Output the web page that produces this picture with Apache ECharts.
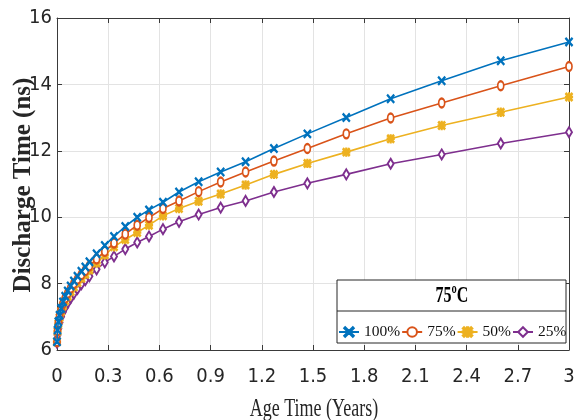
<!DOCTYPE html>
<html>
<head>
<meta charset="utf-8">
<script src="https://cdn.jsdelivr.net/npm/echarts@6/dist/echarts.min.js"></script>
<style>
html,body{margin:0;padding:0;background:#fff;}
#chart{width:580px;height:420px;}
</style>
</head>
<body>
<div id="chart"></div>
<script>
// ---- data ----
var ageYears = [0, 0.003, 0.008, 0.015, 0.024, 0.035, 0.048, 0.063, 0.08, 0.099, 0.12, 0.143, 0.166, 0.19, 0.232, 0.28, 0.334, 0.40, 0.47, 0.539, 0.621, 0.715, 0.83, 0.959, 1.105, 1.271, 1.467, 1.695, 1.955, 2.254, 2.6, 3.0];
var dt100 = [6.25, 6.6, 6.85, 7.05, 7.25, 7.45, 7.62, 7.78, 7.93, 8.08, 8.22, 8.37, 8.5, 8.66, 8.9, 9.15, 9.42, 9.72, 10.0, 10.22, 10.45, 10.76, 11.07, 11.36, 11.67, 12.07, 12.51, 13.0, 13.57, 14.11, 14.71, 15.28];
var dt75 = [6.25, 6.58, 6.82, 7.02, 7.21, 7.4, 7.56, 7.71, 7.86, 8.0, 8.13, 8.27, 8.39, 8.53, 8.74, 8.97, 9.22, 9.49, 9.76, 9.99, 10.26, 10.49, 10.77, 11.06, 11.36, 11.69, 12.07, 12.51, 12.99, 13.44, 13.96, 14.54];
var dt50 = [6.25, 6.56, 6.79, 6.98, 7.16, 7.33, 7.48, 7.62, 7.76, 7.9, 8.03, 8.16, 8.28, 8.41, 8.62, 8.86, 9.11, 9.33, 9.54, 9.76, 10.04, 10.26, 10.48, 10.7, 10.97, 11.29, 11.62, 11.96, 12.36, 12.76, 13.16, 13.62];
var dt25 = [6.22, 6.45, 6.65, 6.83, 7.0, 7.15, 7.29, 7.42, 7.56, 7.7, 7.84, 7.98, 8.1, 8.22, 8.43, 8.64, 8.82, 9.04, 9.24, 9.42, 9.64, 9.86, 10.08, 10.29, 10.49, 10.76, 11.02, 11.29, 11.61, 11.89, 12.22, 12.56];
var seriesNames = ['100%', '75%', '50%', '25%'];
var xTicks = [0, 0.3, 0.6, 0.9, 1.2, 1.5, 1.8, 2.1, 2.4, 2.7, 3];
var yTicks = [6, 8, 10, 12, 14, 16];
var legendTitle = '75ºC';
var xTitle = 'Age Time (Years)';
var yTitle = 'Discharge Time (ns)';

// ---- styling ----
var colors = ['#0072BD', '#D95319', '#EDB120', '#7E2F8E'];
var crossPath = 'path://M0,1L1,0L5,4L9,0L10,1L6,5L10,9L9,10L5,6L1,10L0,9L4,5Z';
var starPath = 'path://M0,1.3L1.3,0L5,3.7L8.7,0L10,1.3L6.3,5L10,8.7L8.7,10L5,6.3L1.3,10L0,8.7L3.7,5Z M4.3,0L5.7,0L5.7,4.3L10,4.3L10,5.7L5.7,5.7L5.7,10L4.3,10L4.3,5.7L0,5.7L0,4.3L4.3,4.3Z';
var symbols = [crossPath, 'emptyCircle', starPath, 'emptyDiamond'];
var symSizes = [[7, 8], [6, 9], [7, 8], [6, 10]];
var values = [dt100, dt75, dt50, dt25];

var tickFont = '"Liberation Sans Narrow", "DejaVu Sans Condensed", "Arial Narrow", sans-serif';
var serif = '"Liberation Serif", "Times New Roman", serif';
var axisColor = '#3a3a3a';
var gridColor = '#e3e3e3';

var xStep = xTicks[1] - xTicks[0];
var yStep = yTicks[1] - yTicks[0];

function pairs(xs, ys) {
  return xs.map(function (x, i) { return [x, ys[i]]; });
}

var series = seriesNames.map(function (name, i) {
  return {
    name: name,
    type: 'line',
    data: pairs(ageYears, values[i]),
    symbol: symbols[i],
    symbolSize: symSizes[i],
    showAllSymbol: true,
    color: colors[i],
    lineStyle: { width: 1.6, color: colors[i] },
    itemStyle: { color: colors[i], borderColor: colors[i], borderWidth: 1.3 },
    z: 5 - i,
    animation: false
  };
});

var baseX = {
  type: 'value', min: xTicks[0], max: xTicks[xTicks.length - 1], interval: xStep,
  axisLine: { show: true, onZero: false, lineStyle: { color: axisColor, width: 1 } },
  axisTick: { show: true, inside: true, length: 5, lineStyle: { color: axisColor } }
};
var baseY = {
  type: 'value', min: yTicks[0], max: yTicks[yTicks.length - 1], interval: yStep,
  axisLine: { show: true, onZero: false, lineStyle: { color: axisColor, width: 1 } },
  axisTick: { show: true, inside: true, length: 5, lineStyle: { color: axisColor } }
};

var option = {
  animation: false,
  backgroundColor: '#ffffff',
  grid: { left: 57, right: 11, top: 18, bottom: 70, containLabel: false },
  xAxis: [
    Object.assign({}, baseX, {
      position: 'bottom',
      splitLine: { show: true, lineStyle: { color: gridColor, width: 1 } },
      axisLabel: { show: true, margin: 17, fontFamily: tickFont, fontSize: 20, color: '#262626',
        formatter: function (v) { return String(+v.toFixed(1)); } }
    }),
    Object.assign({}, baseX, {
      position: 'top',
      splitLine: { show: false },
      axisLabel: { show: false }
    })
  ],
  yAxis: [
    Object.assign({}, baseY, {
      position: 'left',
      splitLine: { show: true, lineStyle: { color: gridColor, width: 1 } },
      axisLabel: { show: true, margin: 5, fontFamily: tickFont, fontSize: 20, color: '#262626' }
    }),
    Object.assign({}, baseY, {
      position: 'right',
      splitLine: { show: false },
      axisLabel: { show: false }
    })
  ],
  legend: {
    data: seriesNames,
    left: 338, top: 324, width: 300, padding: 0,
    orient: 'horizontal',
    itemWidth: 20, itemHeight: 12, itemGap: 1,
    textStyle: { fontFamily: serif, fontSize: 15.5, color: '#111' },
    z: 20
  },
  graphic: [
    { type: 'rect', z: 15, shape: { x: 337, y: 280, width: 229, height: 63 },
      style: { fill: '#ffffff', stroke: '#262626', lineWidth: 1 } },
    { type: 'line', z: 16, shape: { x1: 337, y1: 311, x2: 566, y2: 311 },
      style: { stroke: '#262626', lineWidth: 1 } },
    { type: 'text', z: 16, x: 452, y: 296, scaleY: 1.4,
      style: { text: legendTitle, fontFamily: serif, fontWeight: 'bold', fontSize: 16, fill: '#000',
        align: 'center', verticalAlign: 'middle' } },
    { type: 'text', z: 16, x: 314, y: 410, scaleY: 1.35,
      style: { text: xTitle, fontFamily: serif, fontSize: 18, fill: '#262626',
        align: 'center', verticalAlign: 'middle' } },
    { type: 'text', z: 16, x: 24, y: 185, rotation: Math.PI / 2,
      style: { text: yTitle, fontFamily: serif, fontWeight: 'bold', fontSize: 25, fill: '#262626',
        align: 'center', verticalAlign: 'middle' } }
  ],
  series: series
};

var chart = echarts.init(document.getElementById('chart'), null, { renderer: 'canvas' });
chart.setOption(option);
</script>
</body>
</html>
